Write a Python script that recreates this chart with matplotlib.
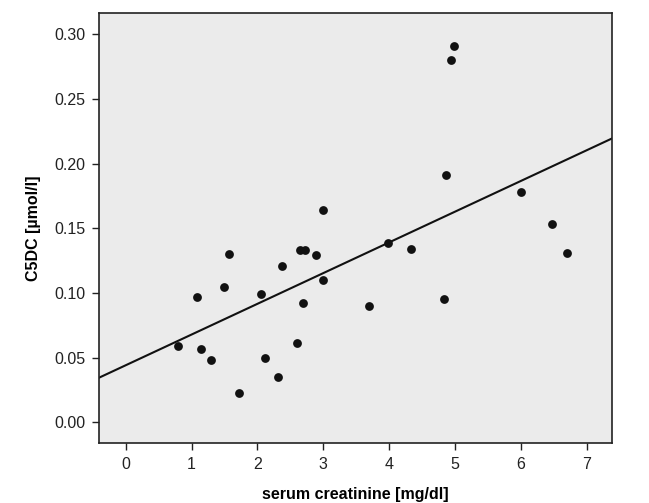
import matplotlib
matplotlib.use("Agg")
import matplotlib.pyplot as plt
import numpy as np

plt.rcParams['font.family'] = ['Liberation Sans', 'DejaVu Sans']

creatinine = [0.79, 1.09, 1.14, 1.29, 1.49, 1.57, 1.72, 2.06, 2.12, 2.32, 2.37, 2.60,
              2.65, 2.72, 2.69, 2.89, 2.99, 3.00, 3.70, 3.99, 4.34, 4.83, 4.87, 4.94,
              4.99, 6.01, 6.47, 6.70]
c5dc = [0.059, 0.097, 0.057, 0.048, 0.105, 0.130, 0.023, 0.099, 0.050, 0.035, 0.121, 0.061,
        0.133, 0.133, 0.092, 0.129, 0.110, 0.164, 0.090, 0.139, 0.134, 0.095, 0.191, 0.280,
        0.291, 0.178, 0.153, 0.131]
fit_intercept = 0.0441
fit_slope = 0.02375

x_ticks = [0, 1, 2, 3, 4, 5, 6, 7]
y_ticks = [0.00, 0.05, 0.10, 0.15, 0.20, 0.25, 0.30]

fig = plt.figure(figsize=(6.49, 5.03), dpi=100)
ax = fig.add_axes([99/649, 1-443/503, (612-99)/649, (443-13)/503])
ax.set_facecolor('#ebebeb')
xlim = (-0.405, 7.385)
ax.set_xlim(*xlim)
ax.set_ylim(-0.016, 0.3165)

ax.scatter(creatinine, c5dc, s=40, color='#111111', zorder=3, linewidths=0)
xs = np.array(xlim)
ax.plot(xs, fit_intercept + fit_slope * xs, color='#111111', lw=1.5, zorder=2)

ax.set_xticks(x_ticks)
ax.set_xticklabels([str(t) for t in x_ticks])
ax.set_yticks(y_ticks)
ax.set_yticklabels([f"{t:.2f}" for t in y_ticks])
ax.tick_params(direction='out', length=5, width=1, labelsize=11.5, colors='#222222', pad=5)
for s in ax.spines.values():
    s.set_linewidth(1.2)
    s.set_color('#222222')

ax.set_xlabel('serum creatinine [mg/dl]', fontsize=11.5, fontweight='bold', labelpad=11)
ax.set_ylabel('C5DC [µmol/l]', fontsize=11.5, fontweight='bold', labelpad=9)

fig.savefig('out.png', dpi=100)
